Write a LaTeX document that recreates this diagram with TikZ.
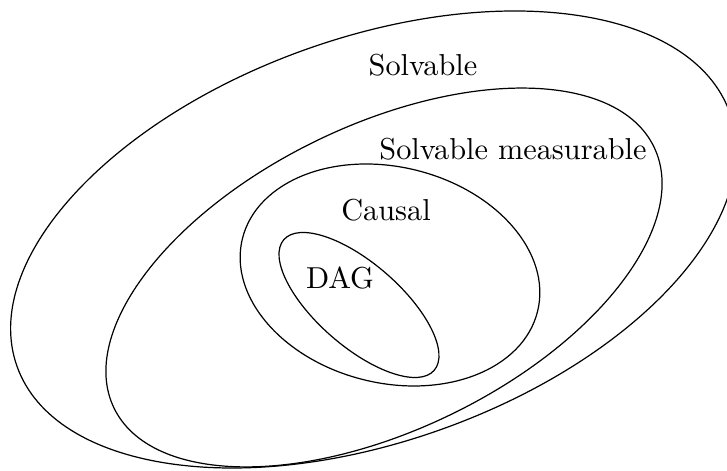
\documentclass[tikz,border=0pt]{standalone}
\begin{document}
\begin{tikzpicture}[x=0.33pt,y=0.33pt,
  setline/.style={draw=black,line width=0.4pt},
  lbl/.style={inner sep=0pt,anchor=base,font=\normalsize}]
\useasboundingbox (0,0) rectangle (727,471);
\clip (0,0) rectangle (727,471);
% Solvable
\draw[setline,rotate around={19.6:(373.4,231.5)}] (373.4,231.5) ellipse [x radius=378.3, y radius=201.7];
% Solvable measurable
\draw[setline,rotate around={25.8:(384,193.5)}] (384,193.5) ellipse [x radius=299.9, y radius=152.5];
% Causal
\draw[setline,rotate around={-13.8:(390,196)}] (390,196) ellipse [x radius=152, y radius=108];
% DAG
\draw[setline,rotate around={-41:(359,166)}] (359,166) ellipse [x radius=99.6, y radius=41.6];
\node[lbl] (solv) at (423,395) {Solvable};
\node[lbl] (solvm) at (513,311) {Solvable measurable};
\node[lbl] (causal) at (386,250) {Causal};
\node[lbl] (dag) at (340,182.7) {DAG};
\end{tikzpicture}
\end{document}
